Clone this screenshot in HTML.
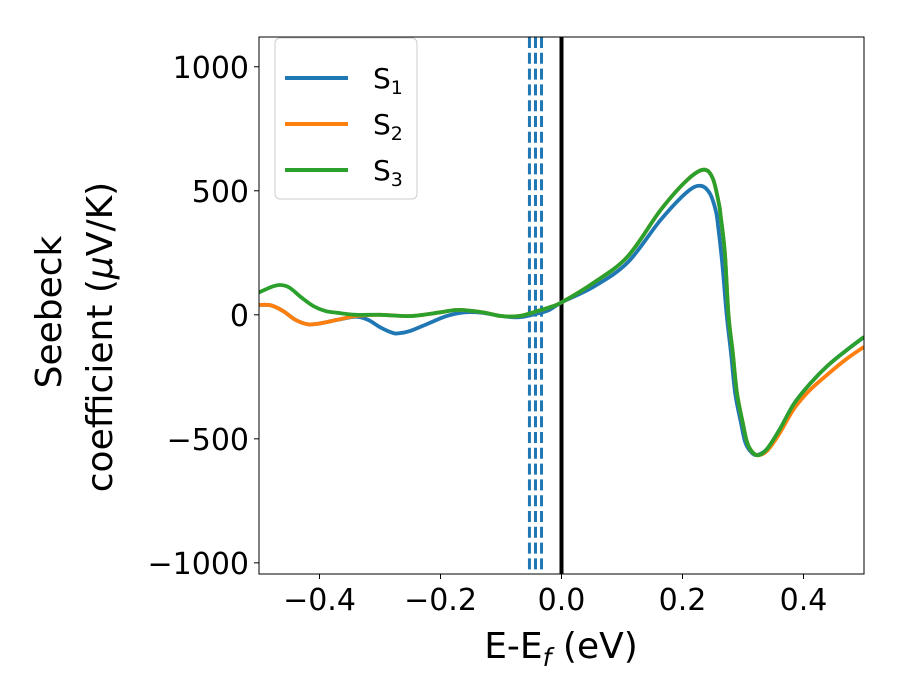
<!DOCTYPE html>
<html><head><meta charset="utf-8"><style>
body{margin:0;background:#fff;}
svg{display:block;font-family:"DejaVu Sans","Liberation Sans",sans-serif;}
</style></head><body>
<svg id="chart" width="900" height="700"></svg>
<script>
const xS1=[-0.5,-0.48,-0.46,-0.44,-0.42,-0.4,-0.37,-0.34,-0.32,-0.3,-0.28,-0.27,-0.25,-0.22,-0.19,-0.16,-0.13,-0.1,-0.07,-0.04,-0.02,0,0.053,0.109,0.164,0.208,0.23,0.245,0.255,0.259,0.266,0.273,0.28,0.287,0.297,0.304,0.314,0.324,0.34,0.36,0.384,0.41,0.44,0.47,0.5];
const yS1=[40,38,15,-20,-38,-35,-20,-8,-20,-50,-72,-75,-65,-35,-5,10,8,-5,-10,5,20,50,113,210,383,496,520,490,420,355,200,0,-150,-315,-440,-516,-555,-565,-540,-465,-360,-280,-205,-145,-90];
const xS2=[-0.5,-0.48,-0.46,-0.44,-0.42,-0.4,-0.37,-0.34,-0.3,-0.25,-0.2,-0.17,-0.13,-0.1,-0.07,-0.04,-0.02,0,0.053,0.109,0.164,0.208,0.235,0.25,0.26,0.263,0.27,0.276,0.283,0.29,0.3,0.307,0.316,0.326,0.34,0.36,0.384,0.41,0.44,0.47,0.5];
const yS2=[40,38,15,-20,-38,-35,-20,-5,0,-5,10,20,10,-5,-5,15,30,50,129,234,423,544,585,550,450,400,250,0,-150,-315,-440,-516,-555,-566,-548,-480,-380,-305,-240,-180,-129];
const xS3=[-0.5,-0.48,-0.465,-0.45,-0.43,-0.41,-0.39,-0.37,-0.34,-0.3,-0.25,-0.2,-0.17,-0.13,-0.1,-0.07,-0.04,-0.02,0,0.053,0.109,0.164,0.208,0.235,0.25,0.26,0.263,0.27,0.276,0.283,0.29,0.3,0.307,0.316,0.326,0.34,0.36,0.384,0.41,0.44,0.47,0.5];
const yS3=[90,112,120,110,70,35,15,8,0,0,-5,10,20,10,-5,-5,15,30,50,129,234,423,544,585,550,450,400,250,0,-150,-315,-440,-516,-555,-566,-540,-465,-360,-280,-205,-145,-89];
const vlines=[-0.053,-0.043,-0.033];
const xTicks=[-0.4,-0.2,0.0,0.2,0.4];
const xTickLabels=["−0.4","−0.2","0.0","0.2","0.4"];
const yTicks=[-1000,-500,0,500,1000];
const yTickLabels=["−1000","−500","0","500","1000"];

const L=259,R=864,T=37,B=574,xmin=-0.5,xmax=0.5,ymin=-1045,ymax=1120;
const sx=v=>L+(v-xmin)/(xmax-xmin)*(R-L);
const sy=v=>B-(v-ymin)/(ymax-ymin)*(B-T);
const svg=document.getElementById('chart');
const NS='http://www.w3.org/2000/svg';
function mk(tag,attrs,parent){const e=document.createElementNS(NS,tag);for(const k in attrs)e.setAttribute(k,attrs[k]);(parent||svg).appendChild(e);return e;}
function pathFor(xs,ys){
  const p=xs.map((x,i)=>[sx(x),sy(ys[i])]);
  let d='M'+p[0][0]+','+p[0][1];
  for(let i=0;i<p.length-1;i++){
    const p0=p[Math.max(i-1,0)],p1=p[i],p2=p[i+1],p3=p[Math.min(i+2,p.length-1)];
    const c1=[p1[0]+(p2[0]-p0[0])/6,p1[1]+(p2[1]-p0[1])/6];
    const c2=[p2[0]-(p3[0]-p1[0])/6,p2[1]-(p3[1]-p1[1])/6];
    d+=' C'+c1+' '+c2+' '+p2;
  }
  return d;
}
const defs=mk('defs',{});
const cp=mk('clipPath',{id:'clip'},defs);
mk('rect',{x:L,y:T,width:R-L,height:B-T},cp);
const g=mk('g',{'clip-path':'url(#clip)'});
vlines.forEach(v=>{
  const l=mk('line',{x1:sx(v),x2:sx(v),y1:T,y2:B,stroke:'#1f77b4','stroke-width':3,'stroke-dasharray':'11,4.8'},g);
  
  
});
const zl=mk('line',{x1:sx(0),x2:sx(0),y1:T,y2:B,stroke:'#000','stroke-width':4},g);


const series=[[xS1,yS1,'#1f77b4','series-s1'],[xS2,yS2,'#ff7f0e','series-s2'],[xS3,yS3,'#2ca02c','series-s3']];
series.forEach(s=>{
  const p=mk('path',{d:pathFor(s[0],s[1]),fill:'none',stroke:s[2],'stroke-width':3.8},g);
  
  
});
const fr=mk('rect',{x:L,y:T,width:R-L,height:B-T,fill:'none',stroke:'#000','stroke-width':1});


xTicks.forEach((v,i)=>{
  mk('line',{x1:sx(v),x2:sx(v),y1:B,y2:B+5,stroke:'#000'});
  const t=mk('text',{x:sx(v),y:B+36,'font-size':30,'text-anchor':'middle'});
  t.textContent=xTickLabels[i];
  
  
});
yTicks.forEach((v,i)=>{
  mk('line',{x1:L-5,x2:L,y1:sy(v),y2:sy(v),stroke:'#000'});
  const t=mk('text',{x:L-10,y:sy(v)+11,'font-size':30,'text-anchor':'end'});
  t.textContent=yTickLabels[i];
  
  
});
</script>
<svg style="position:absolute;left:0;top:0" width="900" height="700">
  <g font-family="DejaVu Sans, Liberation Sans, sans-serif">
    <text x="561" y="658" font-size="36" text-anchor="middle">E-E<tspan font-style="italic" font-size="25" dy="8">f</tspan><tspan dy="-8"> (eV)</tspan></text>
    <g transform="translate(61,312) rotate(-90)">
      <text x="0" y="0" font-size="36" text-anchor="middle">Seebeck</text>
      <text x="-25" y="51" font-size="36" text-anchor="middle">coefficient  (<tspan font-style="italic">μ</tspan>V/K)</text>
    </g>
    <g>
      <rect x="275" y="38" width="142" height="161" rx="5" fill="#fff" fill-opacity="0.8" stroke="#ccc" stroke-width="1"/>
      <g><line x1="285" x2="348" y1="78" y2="78" stroke="#1f77b4" stroke-width="4"/><text x="373" y="88" font-size="28">S<tspan font-size="19" dy="6">1</tspan></text></g>
      <g><line x1="285" x2="348" y1="124" y2="124" stroke="#ff7f0e" stroke-width="4"/><text x="373" y="134" font-size="28">S<tspan font-size="19" dy="6">2</tspan></text></g>
      <g><line x1="285" x2="348" y1="170" y2="170" stroke="#2ca02c" stroke-width="4"/><text x="373" y="180" font-size="28">S<tspan font-size="19" dy="6">3</tspan></text></g>
    </g>
  </g>
</svg>
</body></html>
